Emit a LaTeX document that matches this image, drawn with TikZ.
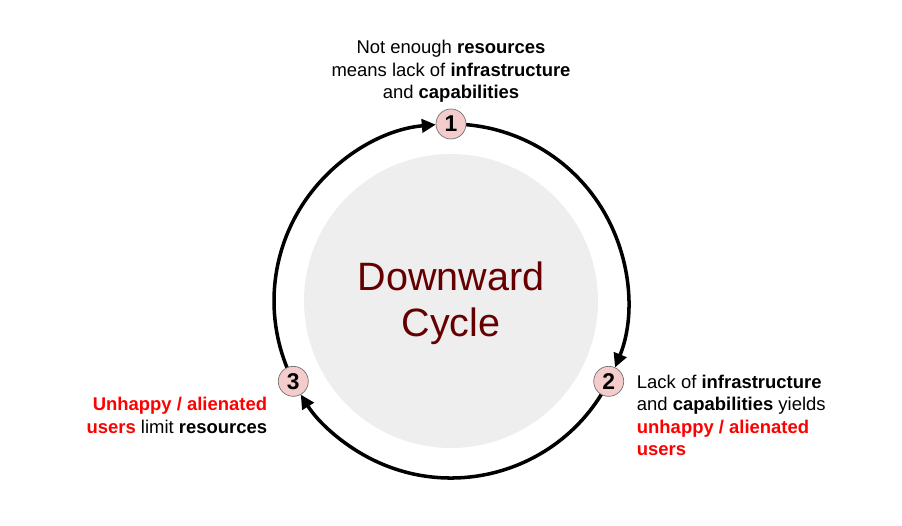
\documentclass[tikz,border=0pt]{standalone}
\usepackage{fontspec}
\setmainfont{Liberation Sans}
\usetikzlibrary{arrows.meta,calc,positioning,backgrounds}
\definecolor{hubgray}{HTML}{EEEEEE}
\definecolor{stepfill}{HTML}{F4CCCC}
\definecolor{darkred}{HTML}{660000}
\definecolor{alarm}{HTML}{FF0000}
\tikzset{stepnode/.style={draw=black!55, fill=stepfill, circle, minimum size=0.6cm, inner sep=0pt, font=\fontsize{13}{15}\selectfont\bfseries}}
\tikzset{line/.style={draw, line width=2pt, -{Triangle[length=8pt,width=7.5pt]}}}
\tikzset{note/.style={inner sep=0pt, font=\fontsize{10.5}{12.8}\selectfont}}

\begin{document}
\begin{tikzpicture}
		\useasboundingbox (0,0) rectangle (18.04,10.52);
		\node [circle, fill=hubgray, minimum size=5.88cm]	(hub) at (9.02,4.50) {};
		\node [align=center, text=darkred, font=\fontsize{22.5}{26.5}\selectfont]	(title) at ($(hub)+(0,-0.05)$) {Downward\\Cycle};
		\node [stepnode]	(n1) at ($(hub)+(90:3.54)$) {1};
		\node [stepnode]	(n2) at ($(hub)+(-27:3.54)$) {2};
		\node [stepnode]	(n3) at ($(hub)+(207:3.54)$) {3};

		\begin{scope}[on background layer]
		\path [line] (n3.center) arc [start angle=207, end angle=94.9, radius=3.54cm];
		\path [line] (n1.center) arc [start angle=90, end angle=-22.1, radius=3.54cm];
		\path [line] (n2.center) arc [start angle=-27, end angle=-148.1, radius=3.54cm];
		\end{scope}

		\node [note, align=center, above=0.11cm of n1]	(t1) {Not enough \textbf{resources}\\means lack of \textbf{infrastructure}\\and \textbf{capabilities}};
		\node [note, align=left, anchor=north west]	(t2) at ($(n2.east)+(0.25,0.14)$) {Lack of \textbf{infrastructure}\\and \textbf{capabilities} yields\\\textbf{\color{alarm}unhappy / alienated}\\\textbf{\color{alarm}users}};
		\node [note, align=right, anchor=north east]	(t3) at ($(n3.west)+(-0.21,-0.31)$) {\textbf{\color{alarm}Unhappy / alienated}\\\textbf{\color{alarm}users} limit \textbf{resources}};
	\end{tikzpicture}
\end{document}
